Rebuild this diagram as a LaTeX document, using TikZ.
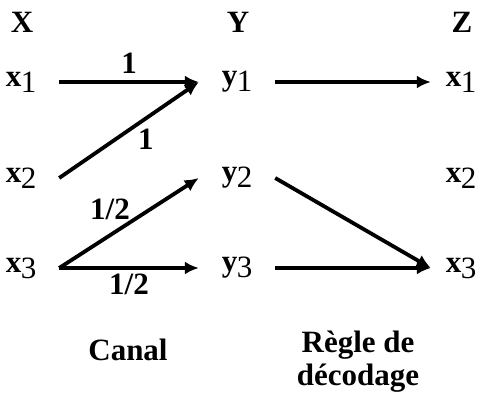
\documentclass[tikz,border=0pt]{standalone}
\usepackage{fontspec}
\setmainfont{Liberation Serif}
\usepackage{tikz}
\usetikzlibrary{arrows.meta,positioning}

\newcommand{\sym}[2]{#1\kern-0.5pt\raisebox{-6pt}{\mdseries #2}}

\begin{document}
\begin{tikzpicture}[x=1pt,y=-1pt,
    every node/.style={font=\fontsize{31}{33}\selectfont\bfseries},
    symb/.style={minimum width=76pt,inner sep=0pt},
    symbz/.style={minimum width=60pt,inner sep=0pt},
    fleche/.style={line width=3.8pt,-{Latex[length=14pt,width=13pt]}}]
  \useasboundingbox (0,0) rectangle (482,397);
  % titres des colonnes
  \node (X) at (22,22) {X};
  \node (Y) at (238,22) {Y};
  \node (Z) at (462,22) {Z};
  % symboles
  \node[symb] (x1) at (21,82) {\sym{x}{1}};
  \node[symb] (x2) at (21,178) {\sym{x}{2}};
  \node[symb] (x3) at (21,268) {\sym{x}{3}};
  \node[symb] (y1) at (237,82) {\sym{y}{1}};
  \node[symb] (y2) at (237,178) {\sym{y}{2}};
  \node[symb] (y3) at (237,268) {\sym{y}{3}};
  \node[symbz] (z1) at (461,82) {\sym{x}{1}};
  \node[symbz] (z2) at (461,178) {\sym{x}{2}};
  \node[symbz] (z3) at (461,268) {\sym{x}{3}};
  % canal
  \draw[fleche] (x1.east) -- node[above=3pt] (p1) {1} (y1.west);
  \draw[fleche] (x2.east) -- node[pos=0.62,below=5pt] (p2) {1} (y1.west);
  \draw[fleche] (x3.east) -- node[pos=0.4,above=7pt,xshift=-5pt] (p3) {1/2} (y2.west);
  \draw[fleche] (x3.east) -- node[below=1pt] (p4) {1/2} (y3.west);
  % regle de decodage
  \draw[fleche] (y1.east) -- (z1.west);
  \draw[fleche] (y2.east) -- (z3.west);
  \draw[fleche] (y3.east) -- (z3.west);
  \node (canal) at (128,350) {Canal};
  \node[align=center] (regle) at (358,362) {Règle de\\décodage};
\end{tikzpicture}
\end{document}
